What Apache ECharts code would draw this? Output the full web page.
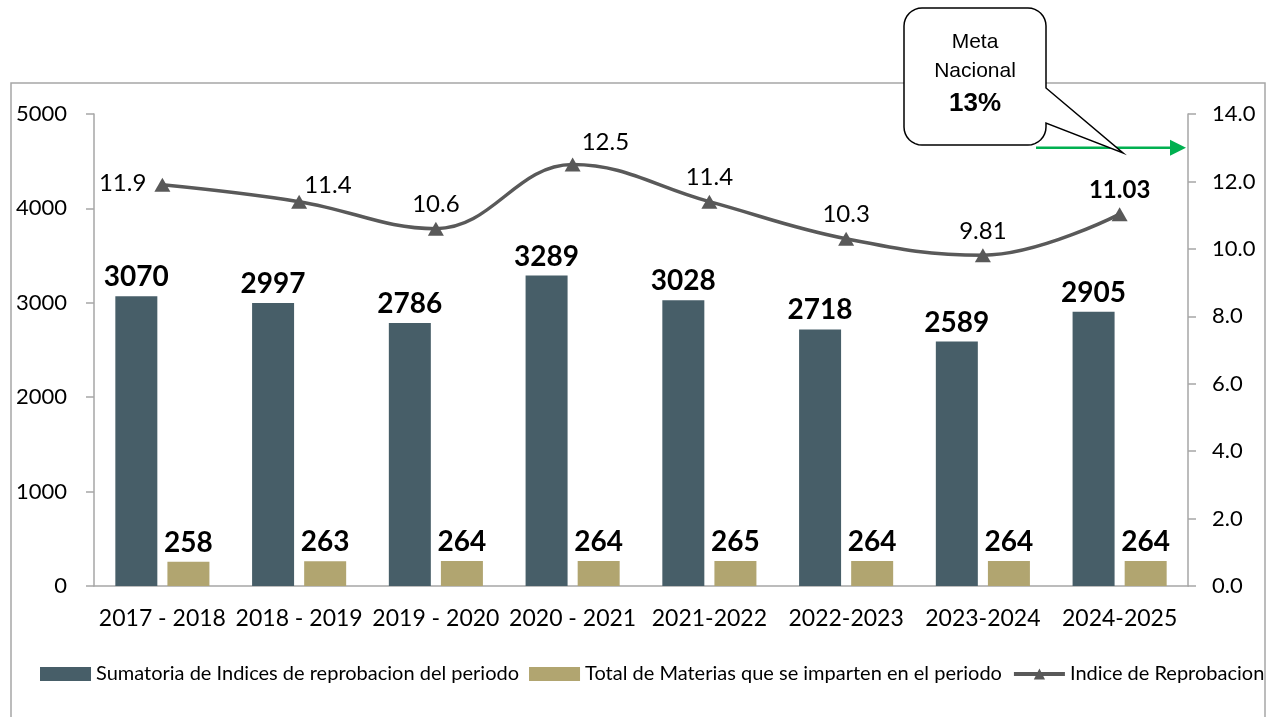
<!DOCTYPE html>
<html>
<head>
<meta charset="utf-8">
<script src="https://cdn.jsdelivr.net/npm/echarts@6/dist/echarts.min.js"></script>
<style>
html,body{margin:0;padding:0;background:#fff;}
#chart{width:1273px;height:717px;}
</style>
</head>
<body>
<div id="chart"></div>
<script>
const categories = ['2017 - 2018','2018 - 2019','2019 - 2020','2020 - 2021','2021-2022','2022-2023','2023-2024','2024-2025'];
const sumatoria = [3070, 2997, 2786, 3289, 3028, 2718, 2589, 2905];
const materias = [258, 263, 264, 264, 265, 264, 264, 264];
const indice = [11.9, 11.4, 10.6, 12.5, 11.4, 10.3, 9.81, 11.03];
const indiceLabels = ['11.9','11.4','10.6','12.5','11.4','10.3','9.81','11.03'];
const metaNacional = 13;
const leftTicks = {min: 0, max: 5000, interval: 1000};
const rightTicks = {min: 0, max: 14, interval: 2};

const FONT = 'Lato, "Noto Sans", sans-serif';
const AXIS_COLOR = '#a6a6a6';

const chart = echarts.init(document.getElementById('chart'));

const lineLabelCfg = [
  {position: 'left', distance: 8, offset: [0, -2]},
  {position: 'right', offset: [-8, -16]},
  {position: 'top'},
  {position: 'right', offset: [-4, -22]},
  {position: 'top'},
  {position: 'top'},
  {position: 'top'},
  {position: 'top', fontWeight: 'bold'}
];

const lineData = indice.map((v, i) => ({
  value: v,
  label: Object.assign({formatter: indiceLabels[i]}, lineLabelCfg[i])
}));

chart.setOption({
  animation: false,
  backgroundColor: '#fff',
  grid: {left: 94, right: 85, top: 114, bottom: 131, containLabel: false},
  legend: {
    bottom: 28,
    left: 35,
    itemWidth: 51,
    itemHeight: 14,
    itemGap: 10,
    textStyle: {fontFamily: FONT, fontSize: 20, color: '#000'},
    data: [
      {name: 'Sumatoria de Indices de reprobacion del periodo', icon: 'rect'},
      {name: 'Total de Materias que se imparten en el periodo', icon: 'rect'},
      {name: 'Indice de Reprobacion', lineStyle: {width: 4, color: '#595959'}}
    ]
  },
  xAxis: {
    type: 'category',
    data: categories,
    axisLine: {lineStyle: {color: AXIS_COLOR, width: 1.5}},
    axisTick: {show: false},
    axisLabel: {fontFamily: FONT, fontSize: 23, color: '#000', margin: 21, interval: 0}
  },
  yAxis: [
    {
      type: 'value', min: leftTicks.min, max: leftTicks.max, interval: leftTicks.interval,
      position: 'left',
      axisLine: {show: true, lineStyle: {color: AXIS_COLOR, width: 1.5}},
      axisTick: {show: true, length: 8, lineStyle: {color: AXIS_COLOR, width: 1.5}},
      splitLine: {show: false},
      axisLabel: {fontFamily: FONT, fontSize: 22, color: '#000', margin: 27,
        formatter: v => String(v)}
    },
    {
      type: 'value', min: rightTicks.min, max: rightTicks.max, interval: rightTicks.interval,
      position: 'right',
      axisLine: {show: true, lineStyle: {color: AXIS_COLOR, width: 1.5}},
      axisTick: {show: true, length: 8, lineStyle: {color: AXIS_COLOR, width: 1.5}},
      splitLine: {show: false},
      axisLabel: {fontFamily: FONT, fontSize: 22, color: '#000', margin: 24,
        formatter: v => v.toFixed(1)}
    }
  ],
  series: [
    {
      name: 'Sumatoria de Indices de reprobacion del periodo',
      type: 'bar',
      data: sumatoria,
      barWidth: 42,
      barGap: '24%',
      itemStyle: {color: '#475e68'},
      label: {show: true, position: 'top', distance: 5, fontFamily: FONT, fontSize: 28, fontWeight: 'bold', color: '#000'}
    },
    {
      name: 'Total de Materias que se imparten en el periodo',
      type: 'bar',
      data: materias,
      barWidth: 42,
      itemStyle: {color: '#b1a570'},
      label: {show: true, position: 'top', distance: 5, fontFamily: FONT, fontSize: 28, fontWeight: 'bold', color: '#000'}
    },
    {
      name: 'Indice de Reprobacion',
      type: 'line',
      yAxisIndex: 1,
      data: lineData,
      smooth: 0.4,
      symbol: 'triangle',
      symbolSize: [16, 14],
      lineStyle: {color: '#595959', width: 3.5},
      itemStyle: {color: '#595959'},
      label: {show: true, fontFamily: FONT, fontSize: 24, color: '#000', distance: 5},
      z: 5
    }
  ]
});

function roundedCalloutPoints() {
  const x0 = 904, x1 = 1046, y0 = 8, y1 = 145, r = 18;
  const pts = [];
  function arc(cx, cy, a0, a1) {
    const n = 8;
    for (let k = 0; k <= n; k++) {
      const a = a0 + (a1 - a0) * k / n;
      pts.push([cx + r * Math.cos(a), cy + r * Math.sin(a)]);
    }
  }
  arc(x0 + r, y0 + r, Math.PI, Math.PI * 1.5);
  arc(x1 - r, y0 + r, Math.PI * 1.5, Math.PI * 2);
  pts.push([x1, 88]);
  pts.push([1123, 153]);
  pts.push([x1, 123]);
  arc(x1 - r, y1 - r, 0, Math.PI * 0.5);
  arc(x0 + r, y1 - r, Math.PI * 0.5, Math.PI);
  return pts;
}

function drawDecor() {
  const yMeta = chart.convertToPixel({yAxisIndex: 1}, metaNacional);
  const xStart = 1036, xEnd = 1186;
  const nf = '"Liberation Sans Narrow", "Liberation Sans", Arial, sans-serif';
  chart.setOption({
    graphic: [
      {
        type: 'rect', z: 0, silent: true,
        shape: {x: 11, y: 83, width: 1254, height: 700},
        style: {fill: 'none', stroke: '#a6a6a6', lineWidth: 1.5}
      },
      {
        type: 'line', z: 50, silent: true,
        shape: {x1: xStart, y1: yMeta, x2: xEnd - 14, y2: yMeta},
        style: {stroke: '#00b050', lineWidth: 2.5}
      },
      {
        type: 'polygon', z: 50, silent: true,
        shape: {points: [[xEnd - 16, yMeta - 8], [xEnd, yMeta], [xEnd - 16, yMeta + 8]]},
        style: {fill: '#00b050'}
      },
      {
        type: 'polygon', z: 60, silent: true,
        shape: {points: roundedCalloutPoints()},
        style: {fill: '#fff', stroke: '#000', lineWidth: 1.5}
      },
      {
        type: 'text', z: 61, silent: true,
        style: {x: 975, y: 42, text: 'Meta', align: 'center', verticalAlign: 'middle',
          fontSize: 21, fontFamily: nf, fill: '#000'}
      },
      {
        type: 'text', z: 61, silent: true,
        style: {x: 975, y: 71, text: 'Nacional', align: 'center', verticalAlign: 'middle',
          fontSize: 21, fontFamily: nf, fill: '#000'}
      },
      {
        type: 'text', z: 61, silent: true,
        style: {x: 975, y: 104, text: '13%', align: 'center', verticalAlign: 'middle',
          fontSize: 26, fontWeight: 'bold', fontFamily: nf, fill: '#000'}
      }
    ]
  });
}
drawDecor();
</script>
</body>
</html>
